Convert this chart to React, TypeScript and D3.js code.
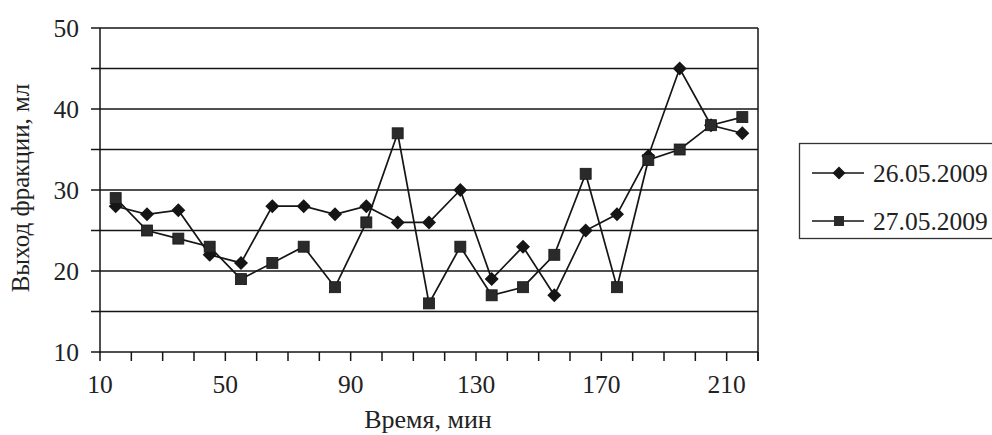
import React from "react";
import * as d3 from "d3";

const times = [15, 25, 35, 45, 55, 65, 75, 85, 95, 105, 115, 125, 135, 145, 155, 165, 175, 185, 195, 205, 215];
const series1 = [28, 27, 27.5, 22, 21, 28, 28, 27, 28, 26, 26, 30, 19, 23, 17, 25, 27, 34.2, 45, 38, 37];
const series2 = [29, 25, 24, 23, 19, 21, 23, 18, 26, 37, 16, 23, 17, 18, 22, 32, 18, 33.7, 35, 38, 39];
const seriesNames = ["26.05.2009", "27.05.2009"];
const xLabelTicks = [10, 50, 90, 130, 170, 210];
const xMinorTicks = d3.range(10, 221, 10);
const yLabelTicks = [10, 20, 30, 40, 50];
const yGridTicks = d3.range(10, 51, 5);

const W = 992;
const H = 435;
const left = 100;
const right = 758;
const top = 28;
const bottom = 352;
const FONT = "'Liberation Serif', 'Times New Roman', serif";
const INK = "#151515";

export default function App() {
  const x = d3.scaleLinear().domain([10, 220]).range([left, right]);
  const y = d3.scaleLinear().domain([10, 50]).range([bottom, top]);
  const line = d3
    .line<number>()
    .x((_, i) => x(times[i]))
    .y((d) => y(d));

  const diamond = (cx: number, cy: number, r: number) =>
    `M${cx},${cy - r}L${cx + r},${cy}L${cx},${cy + r}L${cx - r},${cy}Z`;

  return (
    <svg
      width={W}
      height={H}
      style={{ position: "absolute", left: 0, top: 0, background: "#fff" }}
      fontFamily={FONT}
    >
      <rect x={0} y={0} width={W} height={H} fill="#fff" />
      {/* gridlines */}
      {yGridTicks.map((t) => (
        <line key={"g" + t} x1={left - 9} x2={right} y1={y(t)} y2={y(t)} stroke={INK} strokeWidth={1.5} />
      ))}
      {/* axes */}
      <line x1={left} x2={left} y1={top} y2={bottom + 1} stroke={INK} strokeWidth={1.5} />
      <line x1={right} x2={right} y1={top} y2={bottom + 9} stroke={INK} strokeWidth={1.5} />
      {xMinorTicks.map((t) => (
        <line key={"xt" + t} x1={x(t)} x2={x(t)} y1={bottom} y2={bottom + 9} stroke={INK} strokeWidth={1.5} />
      ))}
      {/* tick labels */}
      {yLabelTicks.map((t) => (
        <text key={"yl" + t} x={79} y={y(t)} dy="0.35em" textAnchor="end" fontSize={25.5} fill="#222">
          {t}
        </text>
      ))}
      {xLabelTicks.map((t) => (
        <text key={"xl" + t} x={x(t)} y={393} textAnchor="middle" fontSize={25.5} fill="#222">
          {t}
        </text>
      ))}
      {/* axis titles */}
      <text x={428} y={428} textAnchor="middle" fontSize={26} fill="#222">
        Время, мин
      </text>
      <text
        transform={`translate(29, 188) rotate(-90)`}
        textAnchor="middle"
        fontSize={25}
        fill="#222"
      >
        Выход фракции, мл
      </text>
      {/* series lines */}
      <path d={line(series1) || ""} fill="none" stroke={INK} strokeWidth={1.7} />
      <path d={line(series2) || ""} fill="none" stroke={INK} strokeWidth={1.7} />
      {series1.map((v, i) => (
        <path key={"d" + i} d={diamond(x(times[i]), y(v), 7)} fill={INK} />
      ))}
      {series2.map((v, i) => (
        <rect key={"s" + i} x={x(times[i]) - 5.5} y={y(v) - 5.5} width={11} height={11} fill="#2a2a2a" stroke={INK} strokeWidth={0.8} />
      ))}
      {/* legend */}
      <rect x={799.5} y={143.5} width={200} height={95} fill="#fff" stroke="#333" strokeWidth={1.3} />
      <line x1={812} x2={864} y1={173} y2={173} stroke={INK} strokeWidth={1.7} />
      <path d={diamond(839, 173, 6.5)} fill={INK} />
      <text x={873} y={173} dy="0.35em" fontSize={25.5} fill="#222">
        {seriesNames[0]}
      </text>
      <line x1={812} x2={864} y1={221} y2={221} stroke={INK} strokeWidth={1.7} />
      <rect x={834} y={216} width={10} height={10} fill="#2a2a2a" />
      <text x={873} y={221} dy="0.35em" fontSize={25.5} fill="#222">
        {seriesNames[1]}
      </text>
    </svg>
  );
}
